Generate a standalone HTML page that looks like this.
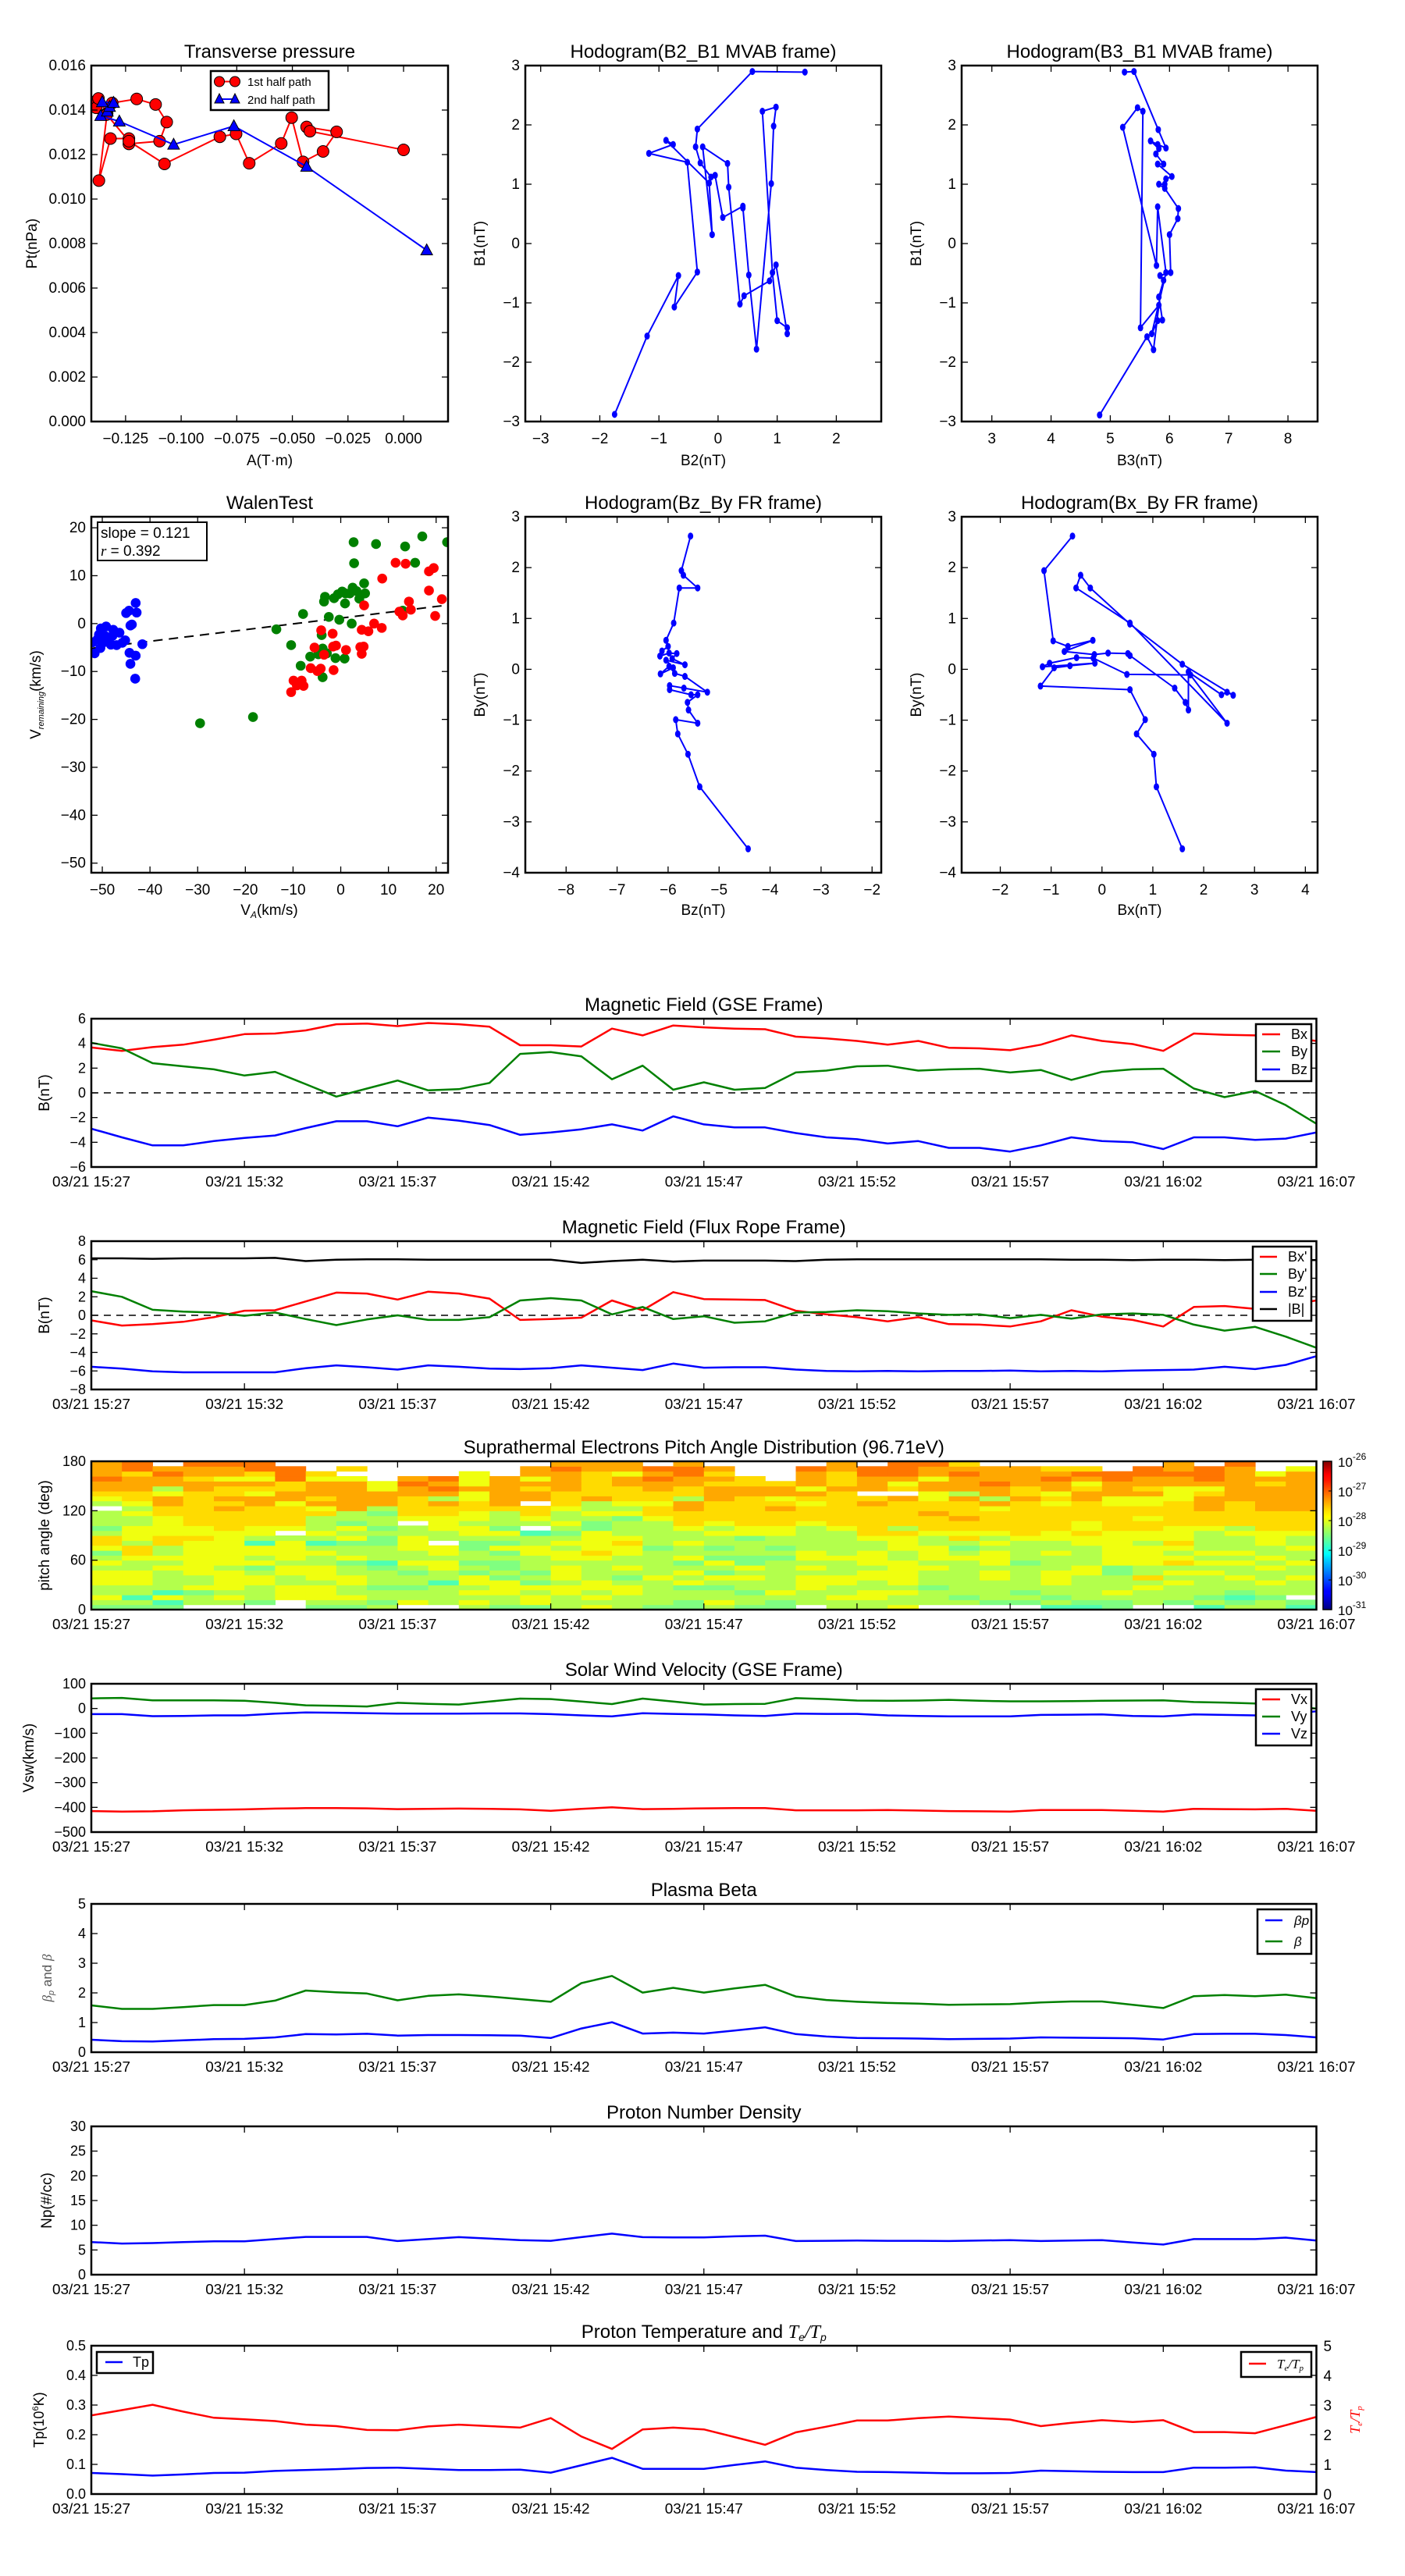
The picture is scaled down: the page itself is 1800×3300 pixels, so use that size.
<!DOCTYPE html>
<html><head><meta charset="utf-8"><title>Flux rope analysis</title>
<style>
html,body{margin:0;padding:0;background:#fff;}
svg{display:block;font-family:"Liberation Sans",sans-serif;}
text{fill:#000;}
</style></head>
<body>
<svg id="fig" xmlns="http://www.w3.org/2000/svg" width="1800" height="3300" viewBox="0 0 1800 3300">
<defs>
<linearGradient id="jet" x1="0" y1="1" x2="0" y2="0">
<stop offset="0" stop-color="#00007f"/><stop offset="0.11" stop-color="#0000ff"/><stop offset="0.125" stop-color="#0000ff"/>
<stop offset="0.34" stop-color="#00d4ff"/><stop offset="0.375" stop-color="#00ffff"/><stop offset="0.5" stop-color="#7dff7a"/>
<stop offset="0.625" stop-color="#ffff00"/><stop offset="0.66" stop-color="#ffe600"/><stop offset="0.875" stop-color="#ff1300"/>
<stop offset="0.91" stop-color="#ff0000"/><stop offset="1" stop-color="#7f0000"/>
</linearGradient>
</defs>
<rect x="0" y="0" width="1800" height="3300" fill="#fff"/>
</svg>
<script>
// ---------------- DATA ----------------
const ptRedA = [-0.1404,-0.1382,-0.1372,-0.1333,-0.1370,-0.1318,-0.1235,-0.1235,-0.1097,-0.1065,-0.1115,-0.1200,-0.1310,-0.1335,-0.1235,-0.1075,-0.0826,-0.0753,-0.0694,-0.0550,-0.0503,-0.0452,-0.0362,-0.0301,-0.0436,-0.0421,0.0000];
const ptRedP = [0.01436,0.01410,0.01452,0.01385,0.01083,0.01272,0.01272,0.01248,0.01260,0.01346,0.01425,0.01450,0.01432,0.01380,0.01260,0.01158,0.01280,0.01293,0.01161,0.01250,0.01366,0.01167,0.01214,0.01302,0.01324,0.01305,0.01221];
const ptBlueA = [0.0104,-0.0436,-0.0763,-0.1034,-0.1278,-0.1362,-0.1332,-0.1322,-0.1355,-0.1304];
const ptBlueP = [0.0077,0.01146,0.01328,0.01245,0.01349,0.01374,0.01394,0.01415,0.01436,0.01433];
const hB2 = [1.47,0.58,-0.35,-0.38,-0.30,-0.12,-0.05,0.08,0.42,0.42,0.52,0.65,0.90,0.94,0.98,0.75,0.92,1.00,1.17,1.17,0.98,0.87,0.44,0.37,0.18,0.16,-0.26,-0.10,-0.15,-0.88,-0.76,-1.17,-0.52,-0.35,-0.74,-0.67,-1.20,-1.75];
const hB1a = [2.89,2.90,1.93,1.63,1.36,1.12,1.15,0.44,0.63,0.60,-0.53,-1.78,1.01,1.98,2.30,2.23,-0.49,-1.30,-1.42,-1.52,-0.36,-0.63,-0.88,-1.02,0.95,1.35,1.63,0.15,1.02,1.74,1.67,1.52,1.37,-0.48,-1.07,-0.54,-1.56,-2.88];
const hB3 = [5.24,5.40,5.81,5.94,5.80,5.68,5.82,5.77,5.90,5.80,6.04,5.94,5.92,5.82,5.92,6.15,6.14,6.00,6.02,5.84,5.90,5.82,5.88,5.80,5.70,5.94,5.80,5.78,5.21,5.46,5.55,5.51,5.82,5.73,5.62,4.82];
const hB1b = [2.89,2.90,1.92,1.61,1.67,1.73,1.60,1.51,1.34,1.34,1.13,1.09,1.00,1.00,0.93,0.59,0.42,0.15,-0.49,-0.54,-0.62,-0.90,-1.29,-1.30,-1.52,-0.49,0.62,-0.37,1.96,2.29,2.23,-1.42,-1.04,-1.79,-1.57,-2.89];
const walenBlueX = [-43.0,-42.8,-45.0,-44.4,-44.1,-43.8,-41.6,-49.2,-50.3,-47.7,-46.4,-47.9,-49.4,-45.2,-45.8,-47.0,-48.2,-50.4,-51.6,-52.0,-51.0,-49.7,-44.3,-43.0,-44.1,-43.1,-50.7,-48.8];
const walenBlueY = [4.3,2.3,2.2,2.7,-0.4,-0.2,-4.3,-0.6,-1.0,-1.3,-1.9,-2.6,-2.6,-3.5,-4.0,-4.5,-4.4,-5.1,-6.2,-3.9,-3.3,-3.9,-6.1,-6.7,-8.4,-11.5,-2.3,-3.3];
const walenGreenX = [-29.5,-18.4,-13.5,-10.4,-8.4,-7.9,-6.4,-4.7,-3.8,-4.0,-3.8,-2.9,-2.5,-1.1,-0.3,0.8,2.3,-3.5,-3.3,-1.4,-0.6,0.3,1.0,0.9,1.9,2.5,3.3,3.9,4.9,5.1,2.7,2.8,7.4,13.5,15.6,17.1,22.3,13.0];
const walenGreenY = [-20.8,-19.5,-1.2,-4.5,-8.8,2.0,-6.9,-6.4,-5.2,-2.4,-11.2,-6.2,1.4,-7.2,0.8,-7.3,0.0,4.6,5.6,5.3,6.1,6.7,6.3,4.2,6.3,7.5,6.8,5.2,8.4,6.3,17.0,12.6,16.6,16.1,12.7,18.2,17.0,2.7];
const walenRedX = [-10.4,-9.9,-9.2,-8.2,-7.8,-6.3,-5.5,-4.9,-4.2,-4.1,-3.5,-1.7,-1.6,-1.0,-1.5,1.1,4.4,4.1,4.8,4.4,4.9,5.8,7.0,8.6,8.7,11.5,13.6,12.3,13.0,14.3,14.7,18.5,18.5,19.5,19.8,21.2];
const walenRedY = [-14.3,-11.9,-12.9,-11.9,-13.0,-9.3,-5.0,-9.9,-9.4,-1.4,-6.5,-2.1,-4.8,-4.6,-9.7,-5.5,-1.3,-4.9,-4.8,-6.3,3.8,-1.6,0.0,-0.9,9.4,12.7,12.5,2.5,1.7,4.6,2.9,10.9,6.9,11.6,1.6,5.1];
const walenFit = [0.121, 1.15];
const frHodoBz = [-5.56,-5.74,-5.70,-5.42,-5.78,-5.89,-6.04,-6.00,-6.12,-6.16,-5.98,-5.83,-5.92,-5.67,-6.04,-5.90,-6.15,-5.98,-5.87,-5.67,-5.23,-5.69,-5.97,-5.97,-5.55,-5.42,-5.62,-5.60,-5.42,-5.85,-5.81,-5.61,-5.38,-4.43];
const frHodoByA = [2.62,1.94,1.85,1.60,1.60,0.91,0.57,0.45,0.36,0.26,0.32,0.31,0.21,0.09,0.18,0.03,-0.09,0.06,-0.08,-0.14,-0.45,-0.37,-0.32,-0.40,-0.50,-0.50,-0.65,-0.80,-1.06,-0.99,-1.27,-1.67,-2.31,-3.53];
const frHodoBx = [-0.58,-1.14,-0.96,-0.67,-0.18,-0.74,-0.15,0.12,0.51,0.55,1.43,1.64,1.70,1.70,2.35,2.46,2.58,1.58,0.55,-0.23,-0.42,-0.51,0.55,2.46,1.74,0.49,-0.17,-0.50,-1.03,-1.17,-0.14,-0.63,-0.94,-1.21,0.55,0.85,0.68,1.02,1.07,1.58];
const frHodoByB = [2.62,1.94,0.56,0.45,0.57,0.35,0.29,0.32,0.31,0.27,-0.37,-0.65,-0.80,-0.05,-0.50,-0.45,-0.51,0.10,0.89,1.60,1.85,1.60,0.91,-1.06,-0.11,-0.10,0.22,0.23,0.12,0.05,0.12,0.07,0.03,-0.33,-0.40,-0.99,-1.27,-1.67,-2.31,-3.53];
const timeLabels = ["03/21 15:27","03/21 15:32","03/21 15:37","03/21 15:42","03/21 15:47","03/21 15:52","03/21 15:57","03/21 16:02","03/21 16:07"];
const gseBx = [3.67,3.4,3.7,3.9,4.3,4.75,4.8,5.05,5.55,5.6,5.4,5.65,5.55,5.35,3.85,3.85,3.75,5.2,4.65,5.45,5.3,5.2,5.15,4.55,4.4,4.2,3.9,4.2,3.65,3.6,3.45,3.9,4.65,4.2,3.95,3.4,4.8,4.7,4.65,4.5,4.2];
const gseBy = [4.05,3.6,2.4,2.15,1.9,1.4,1.7,0.7,-0.3,0.35,1.0,0.2,0.3,0.8,3.15,3.3,2.95,1.1,2.2,0.25,0.85,0.25,0.4,1.65,1.8,2.15,2.2,1.8,1.9,1.95,1.65,1.85,1.05,1.7,1.9,1.95,0.35,-0.35,0.15,-1.0,-2.5];
const gseBz = [-2.9,-3.6,-4.25,-4.25,-3.9,-3.65,-3.45,-2.85,-2.3,-2.3,-2.7,-2.0,-2.25,-2.6,-3.4,-3.2,-2.95,-2.55,-3.05,-1.9,-2.55,-2.8,-2.8,-3.25,-3.6,-3.75,-4.1,-3.9,-4.45,-4.45,-4.75,-4.25,-3.6,-3.9,-4.0,-4.55,-3.6,-3.6,-3.8,-3.7,-3.2];
const frBx = [-0.55,-1.1,-0.95,-0.7,-0.2,0.5,0.55,1.5,2.45,2.35,1.7,2.55,2.35,1.8,-0.5,-0.4,-0.25,1.6,0.55,2.5,1.75,1.7,1.65,0.5,0.1,-0.2,-0.65,-0.2,-0.95,-1.0,-1.2,-0.65,0.55,-0.15,-0.5,-1.2,0.9,1.0,0.7,1.1,1.6];
const frBy = [2.6,2.0,0.6,0.4,0.3,-0.05,0.3,-0.4,-1.05,-0.45,0.0,-0.5,-0.5,-0.2,1.6,1.85,1.6,0.1,0.9,-0.4,-0.1,-0.8,-0.65,0.3,0.35,0.55,0.45,0.2,0.05,0.1,-0.3,0.05,-0.35,0.1,0.2,0.05,-1.0,-1.65,-1.25,-2.3,-3.5];
const frBz = [-5.55,-5.75,-6.05,-6.15,-6.15,-6.15,-6.15,-5.7,-5.4,-5.6,-5.85,-5.4,-5.55,-5.75,-5.8,-5.7,-5.4,-5.65,-5.9,-5.2,-5.65,-5.6,-5.6,-5.85,-6.0,-6.05,-6.0,-6.05,-6.0,-6.0,-5.95,-6.05,-6.0,-6.05,-5.95,-5.9,-5.85,-5.55,-5.8,-5.35,-4.4];
const frBt = [6.15,6.15,6.1,6.15,6.15,6.15,6.2,5.85,6.0,6.05,6.05,6.0,6.0,6.0,6.0,6.0,5.65,5.85,6.0,5.8,5.9,5.9,5.9,5.85,6.0,6.05,6.05,6.05,6.05,6.05,6.05,6.05,6.0,6.0,5.95,6.0,6.0,5.95,6.0,6.0,5.95];
const padColumns = [
"glyllyyylylgyoolglllwlyorrdrrr","glcllyyyllyoolyyyllylyoorrrodd","gcycllllylyllooyyyyoorrylrrdr","wllgyllyyyyyyyoyyooooooorrorrdr",
"wlylyyyylyyyyyyyoooororooryrrdr","wglllyylgylyyclyyoooorryoryoddw","wwyyyllyylyyyylwyooooyrroodddw","glyyylyyyllylclyllloyrorrryoww",
"glyllyyllgyllgylygllrrrrrrywow","lgllglllgclllgglgllglrrryywwww","wyllgllglyllyyyllwyoooorrdrwww","wllllcllyylyywllyyyoorlrdrdwww",
"lylylyyglgllgglyylyyooyyryyyww","gllyyyglgglgyglyglllorrrrrrww","gyylyglglllyyllcwlyoowrroryrrw","lllyylyyylyylylglyllyooorrrrdr",
"ylylyyllllyoyyyygglyllrooooorrd","lllyylglyllyyoylllgylyooorryrr","glllllylllllglllllyooyoorrdrdw","ggllgylylgyllyllyooorrloorrddr",
"lyllglyglyglgllylyoooorrrororw","gllgllylygglllgyyoooooorroowww","gglyllllllglgllyyoooroyrrowww","wlllyyylylyylllllyoooyoryrrrdw",
"llyllyylllylllllyooooooorooorrd","llyyllyylyyyllyoooooorowrrrdd","yllylyyyyyllyyyolooooorwoyrddd","wlllglllylyyyllyooorooyyrryrrdd",
"wlglllllllylgloyoorooorlrrrdroo","wgllllyylyyylylyooooyrlrrdrrrw","wglglllllgllllyoooooooroorrrrw","clgllyyylllyllyyoooooyoyrrdrow",
"cglllllyyllllyyoyyoooorroyrdow","gglylllggyyyyyyyoooooyyrrrddww","wlllylollyyyylyyooyooyyrorrddw","wglllylyloylyoyyyoooooyyyrrdrr",
"clgllllylylyllllyooorrroyrdddw","lgcgllyllylylllylooooorrrrrrrdw","llgllyllylyllyyyoooorrrrroryw","cgwlllyllyllyllyoooorrrrrrrryw"];
const padLevels = {c:-28.75,g:-28.5,l:-28.25,y:-27.95,o:-27.7,r:-27.45,d:-27.2};
const cbarTicks = [-26,-27,-28,-29,-30,-31];
const vx = [-415,-417,-416,-412,-410,-408,-405,-403,-403,-404,-407,-406,-405,-406,-408,-414,-406,-400,-407,-406,-404,-403,-403,-412,-412,-412,-411,-413,-415,-416,-417,-411,-411,-411,-414,-417,-406,-407,-408,-406,-414];
const vy = [41,43,33,33,33,31,23,13,11,8,23,19,16,28,40,38,28,18,40,28,16,18,19,42,38,32,31,32,35,31,29,29,30,31,32,33,26,24,20,10,0];
const vz = [-23,-23,-31,-30,-28,-28,-21,-16,-17,-19,-21,-21,-21,-20,-20,-23,-28,-32,-19,-22,-24,-28,-30,-21,-22,-22,-28,-30,-32,-32,-32,-26,-25,-24,-30,-32,-24,-26,-28,-24,-11];
const beta = [1.58,1.46,1.46,1.52,1.59,1.59,1.74,2.08,2.02,1.98,1.75,1.9,1.95,1.88,1.79,1.7,2.33,2.57,2.01,2.17,2.01,2.15,2.27,1.88,1.76,1.7,1.66,1.64,1.6,1.61,1.62,1.68,1.71,1.71,1.6,1.49,1.89,1.93,1.89,1.94,1.82];
const betaP = [0.42,0.37,0.36,0.4,0.44,0.45,0.5,0.61,0.6,0.62,0.56,0.58,0.58,0.57,0.56,0.48,0.8,1.01,0.63,0.66,0.63,0.73,0.84,0.61,0.53,0.48,0.47,0.46,0.44,0.45,0.46,0.5,0.49,0.48,0.47,0.43,0.61,0.62,0.62,0.58,0.5];
const np = [6.6,6.3,6.4,6.6,6.75,6.75,7.2,7.65,7.65,7.65,6.8,7.2,7.6,7.3,7.0,6.85,7.6,8.3,7.6,7.55,7.55,7.75,7.9,6.8,6.85,6.9,6.85,6.85,6.8,6.9,7.0,6.8,6.9,7.0,6.5,6.1,7.2,7.2,7.2,7.5,6.9];
const tp = [0.071,0.067,0.062,0.066,0.071,0.072,0.078,0.081,0.084,0.088,0.089,0.085,0.081,0.081,0.082,0.072,0.097,0.122,0.085,0.085,0.085,0.098,0.11,0.089,0.081,0.075,0.074,0.072,0.07,0.07,0.071,0.079,0.077,0.075,0.074,0.074,0.089,0.089,0.09,0.079,0.074];
const teTp = [2.65,2.83,3.01,2.78,2.57,2.52,2.46,2.34,2.29,2.16,2.15,2.28,2.34,2.29,2.24,2.56,1.94,1.52,2.18,2.24,2.18,1.92,1.66,2.08,2.27,2.48,2.48,2.56,2.61,2.56,2.51,2.29,2.4,2.49,2.43,2.49,2.09,2.09,2.05,2.32,2.6];

// ---------------- HELPERS ----------------
const NS='http://www.w3.org/2000/svg';
const svg=document.getElementById('fig');
function el(tag,attrs,parent){const e=document.createElementNS(NS,tag);for(const k in attrs)e.setAttribute(k,attrs[k]);(parent||svg).appendChild(e);return e;}
function txt(s,attrs,parent){const e=el('text',attrs,parent);e.textContent=s;return e;}
function lin(d0,d1,r0,r1){return v=>r0+(v-d0)/(d1-d0)*(r1-r0);}
const M='\u2212';
function fmt(v,d){const s=Math.abs(v).toFixed(d);return (v<0&&+s!==0?M:'')+s;}
let clipN=0;
function panel(name,x0,y0,x1,y1,xd,yd){
  const g=el('g',{});
  
  
  const sx=lin(xd[0],xd[1],x0,x1), sy=lin(yd[0],yd[1],y1,y0);
  const id='clip'+(clipN++);
  const cp=el('clipPath',{id:id},g);
  el('rect',{x:x0,y:y0,width:x1-x0,height:y1-y0},cp);
  const plot=el('g',{'clip-path':'url(#'+id+')'},g);
  
  
  return {g,plot,sx,sy,x0,y0,x1,y1,name};
}
function frame(P){
  const r=el('rect',{x:P.x0,y:P.y0,width:P.x1-P.x0,height:P.y1-P.y0,fill:'none',stroke:'#000','stroke-width':2.5},P.g);
  
  
}
function xticks(P,vals,labels,opt){
  opt=opt||{};
  const g=el('g',{},P.g);
  
  
  vals.forEach((v,i)=>{
    const x=P.sx(v);
    el('line',{x1:x,x2:x,y1:P.y1,y2:P.y1-8,stroke:'#000','stroke-width':1.3},g);
    el('line',{x1:x,x2:x,y1:P.y0,y2:P.y0+8,stroke:'#000','stroke-width':1.3},g);
    const t=txt(labels[i],{x:x,y:P.y1+(opt.dy||26),'text-anchor':'middle','font-size':opt.fs||18},g);
    if(opt.len) {t.setAttribute('textLength',opt.len);t.setAttribute('lengthAdjust','spacingAndGlyphs');}
    
    
  });
}
function yticks(P,vals,labels,opt){
  opt=opt||{};
  const g=el('g',{},P.g);
  
  
  vals.forEach((v,i)=>{
    const y=P.sy(v);
    el('line',{x1:P.x0,x2:P.x0+8,y1:y,y2:y,stroke:'#000','stroke-width':1.3},g);
    el('line',{x1:P.x1,x2:P.x1-8,y1:y,y2:y,stroke:'#000','stroke-width':1.3},g);
    const t=txt(labels[i],{x:P.x0-7,y:y+6,'text-anchor':'end','font-size':opt.fs||18},g);
    
    
  });
}
function title(P,s){
  const t=txt(s,{x:(P.x0+P.x1)/2,y:P.y0-10,'text-anchor':'middle','font-size':24},P.g);
  
  
  return t;
}
function xlabel(P,s,y){
  const t=txt(s,{x:(P.x0+P.x1)/2,y:y,'text-anchor':'middle','font-size':19},P.g);
  
  
  return t;
}
function ylabel(P,s,x){
  const cy=(P.y0+P.y1)/2;
  const t=txt(s,{x:x,y:cy,'text-anchor':'middle','font-size':19,transform:'rotate(-90 '+x+' '+cy+')'},P.g);
  
  
  return t;
}
function pathXY(P,xs,ys,color,w,name){
  let d='';
  for(let i=0;i<xs.length;i++){d+=(i?'L':'M')+P.sx(xs[i]).toFixed(1)+' '+P.sy(ys[i]).toFixed(1);}
  const p=el('path',{d:d,fill:'none',stroke:color,'stroke-width':w,'stroke-linejoin':'round'},P.plot);
  
  
  return p;
}
function series(P,ys,color,name){
  const xs=ys.map((_,i)=>i);
  return pathXY(P,xs,ys,color,2.5,name);
}
function legend(x0,y0,x1,y1,entries,lx0,lx1,tx,fs,name){
  const g=el('g',{});
  
  
  el('rect',{x:x0,y:y0,width:x1-x0,height:y1-y0,fill:'#fff',stroke:'#000','stroke-width':2.5},g);
  entries.forEach(e=>{
    const l=el('line',{x1:lx0,x2:lx1,y1:e.y,y2:e.y,stroke:e.c,'stroke-width':2.5},g);
    
    
    const t=txt(e.t,{x:tx,y:e.y+6,'font-size':fs||18},g);
    
    
    if(e.italic) t.setAttribute('font-style','italic');
  });
  return g;
}
function range(a,b,s){const r=[];for(let v=a;v<=b+1e-9;v+=s)r.push(+v.toFixed(6));return r;}

// ---------------- ROW 1 ----------------
(function(){
  const P=panel('transverse-pressure-chart',117,84,574,540,[-0.1404,0.02],[0,0.016]);
  pathXY(P,ptRedA,ptRedP,'#ff0000',2,'first-half-path-line');
  ptRedA.forEach((a,i)=>{
    const c=el('circle',{cx:P.sx(a),cy:P.sy(ptRedP[i]),r:7.5,fill:'#ff0000',stroke:'#000','stroke-width':1},P.plot);
    
    
  });
  pathXY(P,ptBlueA,ptBlueP,'#0000ff',2,'second-half-path-line');
  ptBlueA.forEach((a,i)=>{
    const x=P.sx(a),y=P.sy(ptBlueP[i]);
    const t=el('polygon',{points:`${x},${y-8} ${x-7.5},${y+6} ${x+7.5},${y+6}`,fill:'#0000ff',stroke:'#000','stroke-width':1},P.plot);
    
    
  });
  const xv=[-0.125,-0.1,-0.075,-0.05,-0.025,0];
  xticks(P,xv,xv.map(v=>fmt(v,3)),{fs:19,dy:28});
  const yv=range(0,0.016,0.002);
  yticks(P,yv,yv.map(v=>v.toFixed(3)),{fs:19});
  frame(P);
  title(P,'Transverse pressure');
  xlabel(P,'A(T\u00b7m)',596);
  ylabel(P,'Pt(nPa)',47);
  const g=el('g',{});
  
  
  el('rect',{x:270,y:91,width:151,height:50,fill:'#fff',stroke:'#000','stroke-width':2.5},g);
  el('line',{x1:281,x2:301,y1:104.5,y2:104.5,stroke:'#f00','stroke-width':2},g);
  el('circle',{cx:281,cy:104.5,r:6.5,fill:'#f00',stroke:'#000'},g);
  el('circle',{cx:301,cy:104.5,r:6.5,fill:'#f00',stroke:'#000'},g);
  el('line',{x1:281,x2:301,y1:127,y2:127,stroke:'#00f','stroke-width':2},g);
  el('polygon',{points:'281,120 275,132 287,132',fill:'#00f',stroke:'#000'},g);
  el('polygon',{points:'301,120 295,132 307,132',fill:'#00f',stroke:'#000'},g);
  const t1=txt('1st half path',{x:317,y:110,'font-size':15},g);
  
  
  const t2=txt('2nd half path',{x:317,y:133,'font-size':15},g);
  
  
})();

function hodogram(name,x0,y0,x1,y1,xd,yd,xs,ys,xv,yv,ttl,xl,yl,ylx,xly){
  const P=panel(name,x0,y0,x1,y1,xd,yd);
  pathXY(P,xs,ys,'#0000ff',2,name+'-path');
  xs.forEach((v,i)=>{
    const c=el('ellipse',{cx:P.sx(v),cy:P.sy(ys[i]),rx:3.5,ry:4.5,fill:'#0000ff'},P.plot);
    
    
  });
  xticks(P,xv,xv.map(v=>fmt(v,0)),{fs:19,dy:28});
  yticks(P,yv,yv.map(v=>fmt(v,0)),{fs:19});
  frame(P);
  title(P,ttl);
  xlabel(P,xl,xly);
  ylabel(P,yl,ylx);
}
hodogram('hodogram-b2-b1',673,84,1129,540,[-3.26,2.76],[-3,3],hB2,hB1a,[-3,-2,-1,0,1,2],[-3,-2,-1,0,1,2,3],'Hodogram(B2_B1 MVAB frame)','B2(nT)','B1(nT)',621,596);
hodogram('hodogram-b3-b1',1232,84,1688,540,[2.49,8.5],[-3,3],hB3,hB1b,[3,4,5,6,7,8],[-3,-2,-1,0,1,2,3],'Hodogram(B3_B1 MVAB frame)','B3(nT)','B1(nT)',1180,596);

// ---------------- ROW 2 ----------------
(function(){
  const P=panel('walen-test-chart',117,662,574,1118,[-52.3,22.5],[-52,22.3]);
  const xa=[-52.3,22.5];
  const fl=el('line',{x1:P.sx(xa[0]),y1:P.sy(walenFit[0]*xa[0]+walenFit[1]),x2:P.sx(xa[1]),y2:P.sy(walenFit[0]*xa[1]+walenFit[1]),stroke:'#000','stroke-width':2,'stroke-dasharray':'12,8'},P.plot);
  
  
  [[walenBlueX,walenBlueY,'#0000ff','walen-blue-point'],[walenGreenX,walenGreenY,'#008000','walen-green-point'],[walenRedX,walenRedY,'#ff0000','walen-red-point']].forEach(s=>{
    s[0].forEach((v,i)=>{
      const c=el('circle',{cx:P.sx(v),cy:P.sy(s[1][i]),r:6.3,fill:s[2]},P.plot);
      
      
    });
  });
  const xv=range(-50,20,10);
  xticks(P,xv,xv.map(v=>fmt(v,0)),{fs:19,dy:28});
  yticks(P,xv,xv.map(v=>fmt(v,0)),{fs:19});
  frame(P);
  title(P,'WalenTest');
  const xl=txt('V',{x:345,y:1172,'text-anchor':'middle','font-size':19},P.g);
  
  
  const ts=el('tspan',{'font-size':12,'font-style':'italic',dy:4},xl); ts.textContent='A';
  const ts2=el('tspan',{dy:-4},xl); ts2.textContent='(km/s)';
  const cy=890;
  const yl=txt('V',{x:52,y:cy,'text-anchor':'middle','font-size':19,transform:'rotate(-90 52 '+cy+')'},P.g);
  
  
  const y1=el('tspan',{'font-size':11,'font-style':'italic',dy:4},yl); y1.textContent='remaining';
  const y2=el('tspan',{dy:-4},yl); y2.textContent='(km/s)';
  const box=el('g',{},P.g);
  
  
  el('rect',{x:125,y:669,width:140,height:49,fill:'#fff',stroke:'#000','stroke-width':2},box);
  txt('slope = 0.121',{x:129,y:689,'font-size':19},box);
  const rt=txt('',{x:129,y:712,'font-size':19},box);
  const ri=el('tspan',{'font-style':'italic','font-family':'Liberation Serif, serif'},rt); ri.textContent='r';
  const rv=el('tspan',{},rt); rv.textContent=' = 0.392';
})();
hodogram('hodogram-bz-by',673,662,1129,1118,[-8.8,-1.82],[-4,3],frHodoBz,frHodoByA,[-8,-7,-6,-5,-4,-3,-2],[-4,-3,-2,-1,0,1,2,3],'Hodogram(Bz_By FR frame)','Bz(nT)','By(nT)',621,1172);
hodogram('hodogram-bx-by',1232,662,1688,1118,[-2.76,4.24],[-4,3],frHodoBx,frHodoByB,[-2,-1,0,1,2,3,4],[-4,-3,-2,-1,0,1,2,3],'Hodogram(Bx_By FR frame)','Bx(nT)','By(nT)',1180,1172);

// ---------------- TIME SERIES ----------------
const TX0=117, TX1=1686.5;
const tickMin=[0,5,10,15,20,25,30,35,40];
function tpanel(name,y0,y1,yd,yv,ylab,ylx,ttl,dec){
  const P=panel(name,TX0,y0,TX1,y1,[0,40],yd);
  P.finish=function(){
    xticks(P,tickMin,timeLabels,{fs:18,dy:25,len:100});
    yticks(P,yv,yv.map(v=>fmt(v,dec||0)),{fs:18});
    frame(P);
    if(ttl) title(P,ttl);
    if(ylab) ylabel(P,ylab,ylx);
  };
  return P;
}
function zeroLine(P){
  const l=el('line',{x1:P.x0,x2:P.x1,y1:P.sy(0),y2:P.sy(0),stroke:'#000','stroke-width':1.5,'stroke-dasharray':'9,7'},P.plot);
  
  
}
(function(){
  const P=tpanel('magnetic-field-gse-chart',1305,1495,[-6,6],range(-6,6,2),'B(nT)',63,'Magnetic Field (GSE Frame)');
  zeroLine(P);
  series(P,gseBx,'#ff0000','bx-line');
  series(P,gseBy,'#008000','by-line');
  series(P,gseBz,'#0000ff','bz-line');
  P.finish();
  legend(1609,1312,1680,1385,[{t:'Bx',c:'#f00',y:1325},{t:'By',c:'#008000',y:1347},{t:'Bz',c:'#00f',y:1370}],1617,1640,1654,18,'gse-field-legend');
})();
(function(){
  const P=tpanel('magnetic-field-fr-chart',1590,1780,[-8,8],range(-8,8,2),'B(nT)',63,'Magnetic Field (Flux Rope Frame)');
  zeroLine(P);
  series(P,frBx,'#ff0000','bx-prime-line');
  series(P,frBy,'#008000','by-prime-line');
  series(P,frBz,'#0000ff','bz-prime-line');
  series(P,frBt,'#000000','b-magnitude-line');
  P.finish();
  legend(1605,1597,1680,1692,[{t:"Bx'",c:'#f00',y:1610},{t:"By'",c:'#008000',y:1632},{t:"Bz'",c:'#00f',y:1655},{t:'|B|',c:'#000',y:1677}],1614,1636,1650,18,'fr-field-legend');
})();
function jet(t){
  const c=x=>Math.max(0,Math.min(1,x));
  const r=c(1.5-Math.abs(4*t-3)),g=c(1.5-Math.abs(4*t-2)),b=c(1.5-Math.abs(4*t-1));
  return 'rgb('+Math.round(r*255)+','+Math.round(g*255)+','+Math.round(b*255)+')';
}
(function(){
  const P=tpanel('pitch-angle-distribution-chart',1872,2062,[0,180],[0,60,120,180],'pitch angle (deg)',63,'Suprathermal Electrons Pitch Angle Distribution (96.71eV)');
  const nb=30;
  padColumns.forEach((col,ci)=>{
    for(let r=0;r<nb;r++){
      const ch=col[r];
      const v=padLevels[ch];
      if(v===undefined) continue;
      const x0=P.sx(ci), x1=P.sx(ci+1), ya=P.sy(r*6), yb=P.sy((r+1)*6);
      const rc=el('rect',{x:x0.toFixed(1),y:yb.toFixed(1),width:(x1-x0+0.6).toFixed(1),height:(ya-yb+0.6).toFixed(1),fill:jet((v+31)/5)},P.plot);
      
      
    }
  });
  P.finish();
  const cb=el('g',{});
  
  
  el('rect',{x:1695,y:1872,width:11,height:190,fill:'url(#jet)',stroke:'#000','stroke-width':1.5},cb);
  const cs=lin(-31,-26,2062,1872);
  cbarTicks.forEach(v=>{
    const y=cs(v);
    el('line',{x1:1702,x2:1706,y1:y,y2:y,stroke:'#000'},cb);
    const t=txt('10',{x:1714,y:y+7,'font-size':17},cb);
    
    
    const s=el('tspan',{'font-size':12,dy:-9},t); s.textContent=String(v);
  });
})();
(function(){
  const P=tpanel('solar-wind-velocity-chart',2157,2347,[-500,100],range(-500,100,100),'Vsw(km/s)',43,'Solar Wind Velocity (GSE Frame)');
  series(P,vx,'#ff0000','vx-line');
  series(P,vy,'#008000','vy-line');
  series(P,vz,'#0000ff','vz-line');
  P.finish();
  legend(1609,2164,1680,2236,[{t:'Vx',c:'#f00',y:2177},{t:'Vy',c:'#008000',y:2199},{t:'Vz',c:'#00f',y:2221}],1617,1640,1654,18,'velocity-legend');
})();
(function(){
  const P=tpanel('plasma-beta-chart',2439,2629,[0,5],range(0,5,1),null,0,'Plasma Beta');
  series(P,betaP,'#0000ff','beta-p-line');
  series(P,beta,'#008000','beta-line');
  P.finish();
  const cy=(P.y0+P.y1)/2;
  const t=txt('',{x:66,y:cy,'text-anchor':'middle','font-size':17,fill:'#555',transform:'rotate(-90 66 '+cy+')'},P.g);
  
  
  const a=el('tspan',{'font-style':'italic','font-family':'Liberation Serif, serif',fill:'#555'},t); a.textContent='\u03b2';
  const b=el('tspan',{'font-size':11,'font-style':'italic',dy:3,fill:'#555'},t); b.textContent='p';
  const c=el('tspan',{dy:-3,fill:'#555'},t); c.textContent=' and ';
  const d=el('tspan',{'font-style':'italic','font-family':'Liberation Serif, serif',fill:'#555'},t); d.textContent='\u03b2';
  legend(1611,2446,1680,2503,[{t:'\u03b2p',c:'#00f',y:2460,italic:true},{t:'\u03b2',c:'#008000',y:2487,italic:true}],1621,1643,1658,17,'beta-legend');
})();
(function(){
  const P=tpanel('proton-density-chart',2724,2914,[0,30],range(0,30,5),'Np(#/cc)',66,'Proton Number Density');
  series(P,np,'#0000ff','density-line');
  P.finish();
})();
(function(){
  const P=tpanel('proton-temperature-chart',3005,3195,[0,0.5],range(0,0.5,0.1),null,0,null,1);
  const sr=lin(0,5,P.y1,P.y0);
  series(P,tp,'#0000ff','tp-line');
  let d='';
  teTp.forEach((v,i)=>{d+=(i?'L':'M')+P.sx(i).toFixed(1)+' '+sr(v).toFixed(1);});
  const rl=el('path',{d:d,fill:'none',stroke:'#ff0000','stroke-width':2.5},P.plot);
  
  
  P.finish();
  const ra=el('g',{},P.g);
  
  
  [0,1,2,3,4,5].forEach(v=>{
    const y=sr(v);
    el('line',{x1:P.x1,x2:P.x1-6,y1:y,y2:y,stroke:'#000'},ra);
    const t=txt(String(v),{x:P.x1+9,y:y+7,'font-size':19,fill:'#ff0000'},ra);
    
    
  });
  const cy=(P.y0+P.y1)/2;
  const yr=txt('',{x:1742,y:cy,'text-anchor':'middle','font-size':18,fill:'#ff0000','font-style':'italic','font-family':'Liberation Serif, serif',transform:'rotate(-90 1742 '+cy+')'},ra);
  
  
  yr.innerHTML='<tspan fill="#f00">T</tspan><tspan fill="#f00" font-size="11" dy="3">e</tspan><tspan fill="#f00" dy="-3">/T</tspan><tspan fill="#f00" font-size="11" dy="3">p</tspan>';
  const yl=txt('',{x:56,y:cy,'text-anchor':'middle','font-size':18,transform:'rotate(-90 56 '+cy+')'},P.g);
  
  
  yl.innerHTML='<tspan>Tp(10</tspan><tspan font-size="11" dy="-7">6</tspan><tspan dy="7">K)</tspan>';
  const tt=txt('',{x:(P.x0+P.x1)/2,y:P.y0-10,'text-anchor':'middle','font-size':24},P.g);
  
  
  tt.innerHTML='<tspan>Proton Temperature and </tspan><tspan font-style="italic" font-family="Liberation Serif, serif">T</tspan><tspan font-size="14" font-style="italic" dy="4">e</tspan><tspan dy="-4" font-style="italic" font-family="Liberation Serif, serif">/T</tspan><tspan font-size="14" font-style="italic" dy="4">p</tspan>';
  legend(124,3013,196,3040,[{t:'Tp',c:'#00f',y:3026}],135,157,170,18,'tp-legend');
  const lg=legend(1590,3013,1680,3045,[],1600,1622,1635,17,'te-tp-legend');
  el('line',{x1:1600,x2:1622,y1:3028,y2:3028,stroke:'#f00','stroke-width':2.5},lg);
  const lt=txt('',{x:1636,y:3034,'font-size':17,'font-style':'italic','font-family':'Liberation Serif, serif'},lg);
  
  
  lt.innerHTML='<tspan>T</tspan><tspan font-size="11" dy="3">e</tspan><tspan dy="-3">/T</tspan><tspan font-size="11" dy="3">p</tspan>';
})();
</script>
</body></html>
